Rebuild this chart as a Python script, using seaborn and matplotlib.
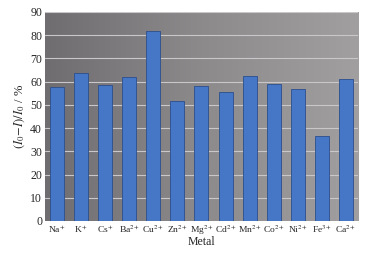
import numpy as np
import pandas as pd
import matplotlib
matplotlib.use("Agg")
import matplotlib.pyplot as plt
import seaborn as sns

metals = ["Na$^{+}$", "K$^{+}$", "Cs$^{+}$", "Ba$^{2+}$", "Cu$^{2+}$", "Zn$^{2+}$", "Mg$^{2+}$",
          "Cd$^{2+}$", "Mn$^{2+}$", "Co$^{2+}$", "Ni$^{2+}$", "Fe$^{3+}$", "Ca$^{2+}$"]
values = [57.5, 63.5, 58.5, 62, 82, 51.5, 58, 55.5, 62.5, 59, 57, 36.5, 61]
yticks = [0, 10, 20, 30, 40, 50, 60, 70, 80, 90]

sns.set_theme(style="white")
plt.rcParams['font.family'] = ['Liberation Serif', 'DejaVu Serif']
plt.rcParams['mathtext.fontset'] = 'stix'

fig = plt.figure(figsize=(3.68, 2.54), dpi=100)
ax = fig.add_axes([0.122, 0.13, 0.851, 0.823])

df = pd.DataFrame({"Metal": metals, "val": values})

# gradient background
grad = np.linspace(0, 1, 256).reshape(1, -1)
cmap = matplotlib.colors.LinearSegmentedColormap.from_list("bg", ["#6f6d70", "#8d8a8c", "#a29fa1"])
ax.imshow(grad, extent=[-0.5, 12.5, 0, 90], aspect='auto', cmap=cmap, zorder=0)

for t in yticks[1:]:
    ax.axhline(t, color="#c9c7c9", lw=0.8, zorder=1)

sns.barplot(data=df, x="Metal", y="val", color="#4677c6", width=0.58,
            edgecolor="#2c4e8c", linewidth=0.6, saturation=1, ax=ax, zorder=3)

ax.set_xlim(-0.5, 12.5)
ax.set_ylim(0, 90)
ax.set_yticks(yticks)
ax.tick_params(axis='y', labelsize=8.5, length=0, pad=2)
ax.tick_params(axis='x', labelsize=6.8, length=0, pad=2)
ax.set_xlabel("Metal", fontsize=8.5, labelpad=-1)
ax.set_ylabel(r"$(I_0\!-\!I)/I_0$ / %", fontsize=9, labelpad=2)
for s in ax.spines.values():
    s.set_visible(False)

fig.savefig("out.png", dpi=100)
